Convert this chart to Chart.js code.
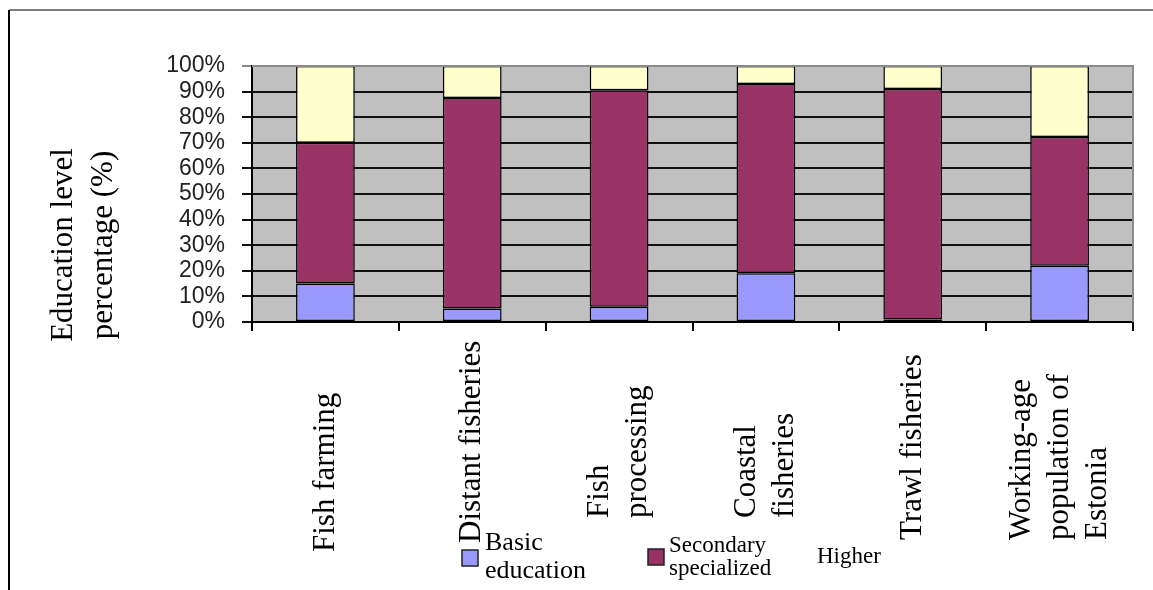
<!DOCTYPE html>
<html>
<head>
<meta charset="utf-8">
<script src="https://cdn.jsdelivr.net/npm/chart.js@4.4.1/dist/chart.umd.min.js"></script>
<style>
  html, body { margin: 0; padding: 0; background: #fff; }
  #wrap { position: relative; width: 1153px; height: 590px; }
</style>
</head>
<body>
<div id="wrap"><canvas id="chart" width="1153" height="590"></canvas></div>
<script>
// Sector groups (multi-line category labels)
const categories = [
  ['Fish farming'],
  ['Distant fisheries'],
  ['Fish', 'processing'],
  ['Coastal', 'fisheries'],
  ['Trawl fisheries'],
  ['Working-age', 'population of', 'Estonia']
];

// Share of each education level, % of the group
const basicEducation        = [15, 5.3, 6,    19, 1,  22];
const secondarySpecialized  = [55, 82.2, 84.5, 74, 90, 50.3];
const higherEducation       = [30, 12.5, 9.5,  7,  9,  27.7];

const seriesNames  = ['Basic education', 'Secondary specialized', 'Higher'];
const legendLines  = [['Basic', 'education'], ['Secondary', 'specialized'], ['Higher']];
const percentTicks = [0, 10, 20, 30, 40, 50, 60, 70, 80, 90, 100];
const yTitleLines  = ['Education level', 'percentage (%)'];

const SERIF = '"Liberation Serif", "Times New Roman", serif';
const SANS  = '"Liberation Sans", Arial, sans-serif';

// Page frame, plot background, plot border, axis title, category labels and legend
const decor = {
  id: 'decor',
  beforeDraw(chart) {
    const { ctx, chartArea: a } = chart;
    ctx.save();
    ctx.fillStyle = '#fff';
    ctx.fillRect(0, 0, chart.width, chart.height);
    ctx.lineWidth = 2;
    ctx.strokeStyle = '#7d7d7d';
    ctx.beginPath(); ctx.moveTo(9, 10); ctx.lineTo(chart.width, 10); ctx.stroke();
    ctx.strokeStyle = '#000';
    ctx.beginPath(); ctx.moveTo(9, 10); ctx.lineTo(9, chart.height); ctx.stroke();
    ctx.fillStyle = '#c0c0c0';
    ctx.fillRect(a.left, a.top, a.width, a.height);
    ctx.restore();
  },
  afterDraw(chart) {
    const { ctx, chartArea: a } = chart;
    const xs = chart.scales.x;
    const opts = chart.options.plugins.decor;
    ctx.save();

    // plot border, top and right
    ctx.strokeStyle = '#8a8a8a';
    ctx.lineWidth = 2;
    ctx.beginPath();
    ctx.moveTo(a.left, a.top);
    ctx.lineTo(a.right, a.top);
    ctx.lineTo(a.right, a.bottom);
    ctx.stroke();

    ctx.fillStyle = '#000';

    // y-axis title
    ctx.font = '31px ' + SERIF;
    ctx.textAlign = 'center';
    ctx.textBaseline = 'alphabetic';
    const titleX = [72, 112];
    yTitleLines.forEach((t, i) => {
      ctx.save();
      ctx.translate(titleX[i], 245);
      ctx.rotate(-Math.PI / 2);
      ctx.fillText(t, 0, 0);
      ctx.restore();
    });

    // category labels, rotated, reading upward
    ctx.font = '31px ' + SERIF;
    ctx.textAlign = 'left';
    ctx.textBaseline = 'middle';
    const lineStep = 38;
    categories.forEach((lines, i) => {
      const cx = xs.getPixelForTick(i);
      const baseY = opts.labelBase[i];
      lines.forEach((t, j) => {
        const lx = cx + (j - (lines.length - 1) / 2) * lineStep;
        ctx.save();
        ctx.translate(lx, baseY);
        ctx.rotate(-Math.PI / 2);
        ctx.fillText(t, 0, 0);
        ctx.restore();
      });
    });

    // legend
    ctx.textAlign = 'left';
    ctx.textBaseline = 'alphabetic';
    chart.data.datasets.forEach((ds, i) => {
      const e = opts.legend[i];
      if (e.box) {
        ctx.fillStyle = ds.backgroundColor;
        ctx.fillRect(e.bx, e.by, 16, 16);
        ctx.strokeStyle = '#222';
        ctx.lineWidth = 1.5;
        ctx.strokeRect(e.bx, e.by, 16, 16);
      }
      ctx.fillStyle = '#000';
      ctx.font = e.size + 'px ' + SERIF;
      legendLines[i].forEach((t, j) => ctx.fillText(t, e.tx, e.ty + j * e.lh));
    });

    ctx.restore();
  }
};

const bar = (label, data, color) => ({
  label, data,
  backgroundColor: color,
  borderColor: '#000',
  borderWidth: 1.5,
  borderSkipped: false,
  barPercentage: 0.4,
  categoryPercentage: 1.0
});

new Chart(document.getElementById('chart'), {
  type: 'bar',
  data: {
    labels: categories.map(l => l.join(' ')),
    datasets: [
      bar(seriesNames[0], basicEducation, '#9999ff'),
      bar(seriesNames[1], secondarySpecialized, '#993366'),
      bar(seriesNames[2], higherEducation, '#ffffcc')
    ]
  },
  options: {
    responsive: false,
    animation: false,
    devicePixelRatio: 1,
    layout: { padding: { top: 66, right: 20, left: 0, bottom: 0 } },
    plugins: {
      legend: { display: false },
      tooltip: { enabled: false },
      decor: {
        labelBase: [552, 543, 518, 518, 540, 540],
        legend: [
          { box: true,  bx: 462, by: 550, tx: 485, ty: 550, size: 26, lh: 28 },
          { box: true,  bx: 648, by: 549, tx: 669, ty: 552, size: 23, lh: 23 },
          { box: false, bx: 0,   by: 0,   tx: 817, ty: 563, size: 23, lh: 23 }
        ]
      }
    },
    scales: {
      x: {
        stacked: true,
        offset: true,
        grid: { offset: true, drawOnChartArea: false, drawTicks: true, tickLength: 9, color: '#000', lineWidth: 2 },
        border: { color: '#000', width: 2 },
        ticks: { display: false },
        afterFit(s) { s.height = 268; }
      },
      y: {
        stacked: true,
        min: 0,
        max: 100,
        afterBuildTicks(s) { s.ticks = percentTicks.map(v => ({ value: v })); },
        ticks: {
          autoSkip: false,
          callback: v => v + '%',
          padding: 17,
          color: '#222',
          font: { family: SANS, size: 23 }
        },
        grid: {
          color: c => (c.tick && c.tick.value === 100 ? '#8a8a8a' : '#111'),
          lineWidth: 2,
          tickLength: 10
        },
        border: { color: '#000', width: 2 },
        afterFit(s) { s.width = 252; }
      }
    }
  },
  plugins: [decor]
});
</script>
</body>
</html>
